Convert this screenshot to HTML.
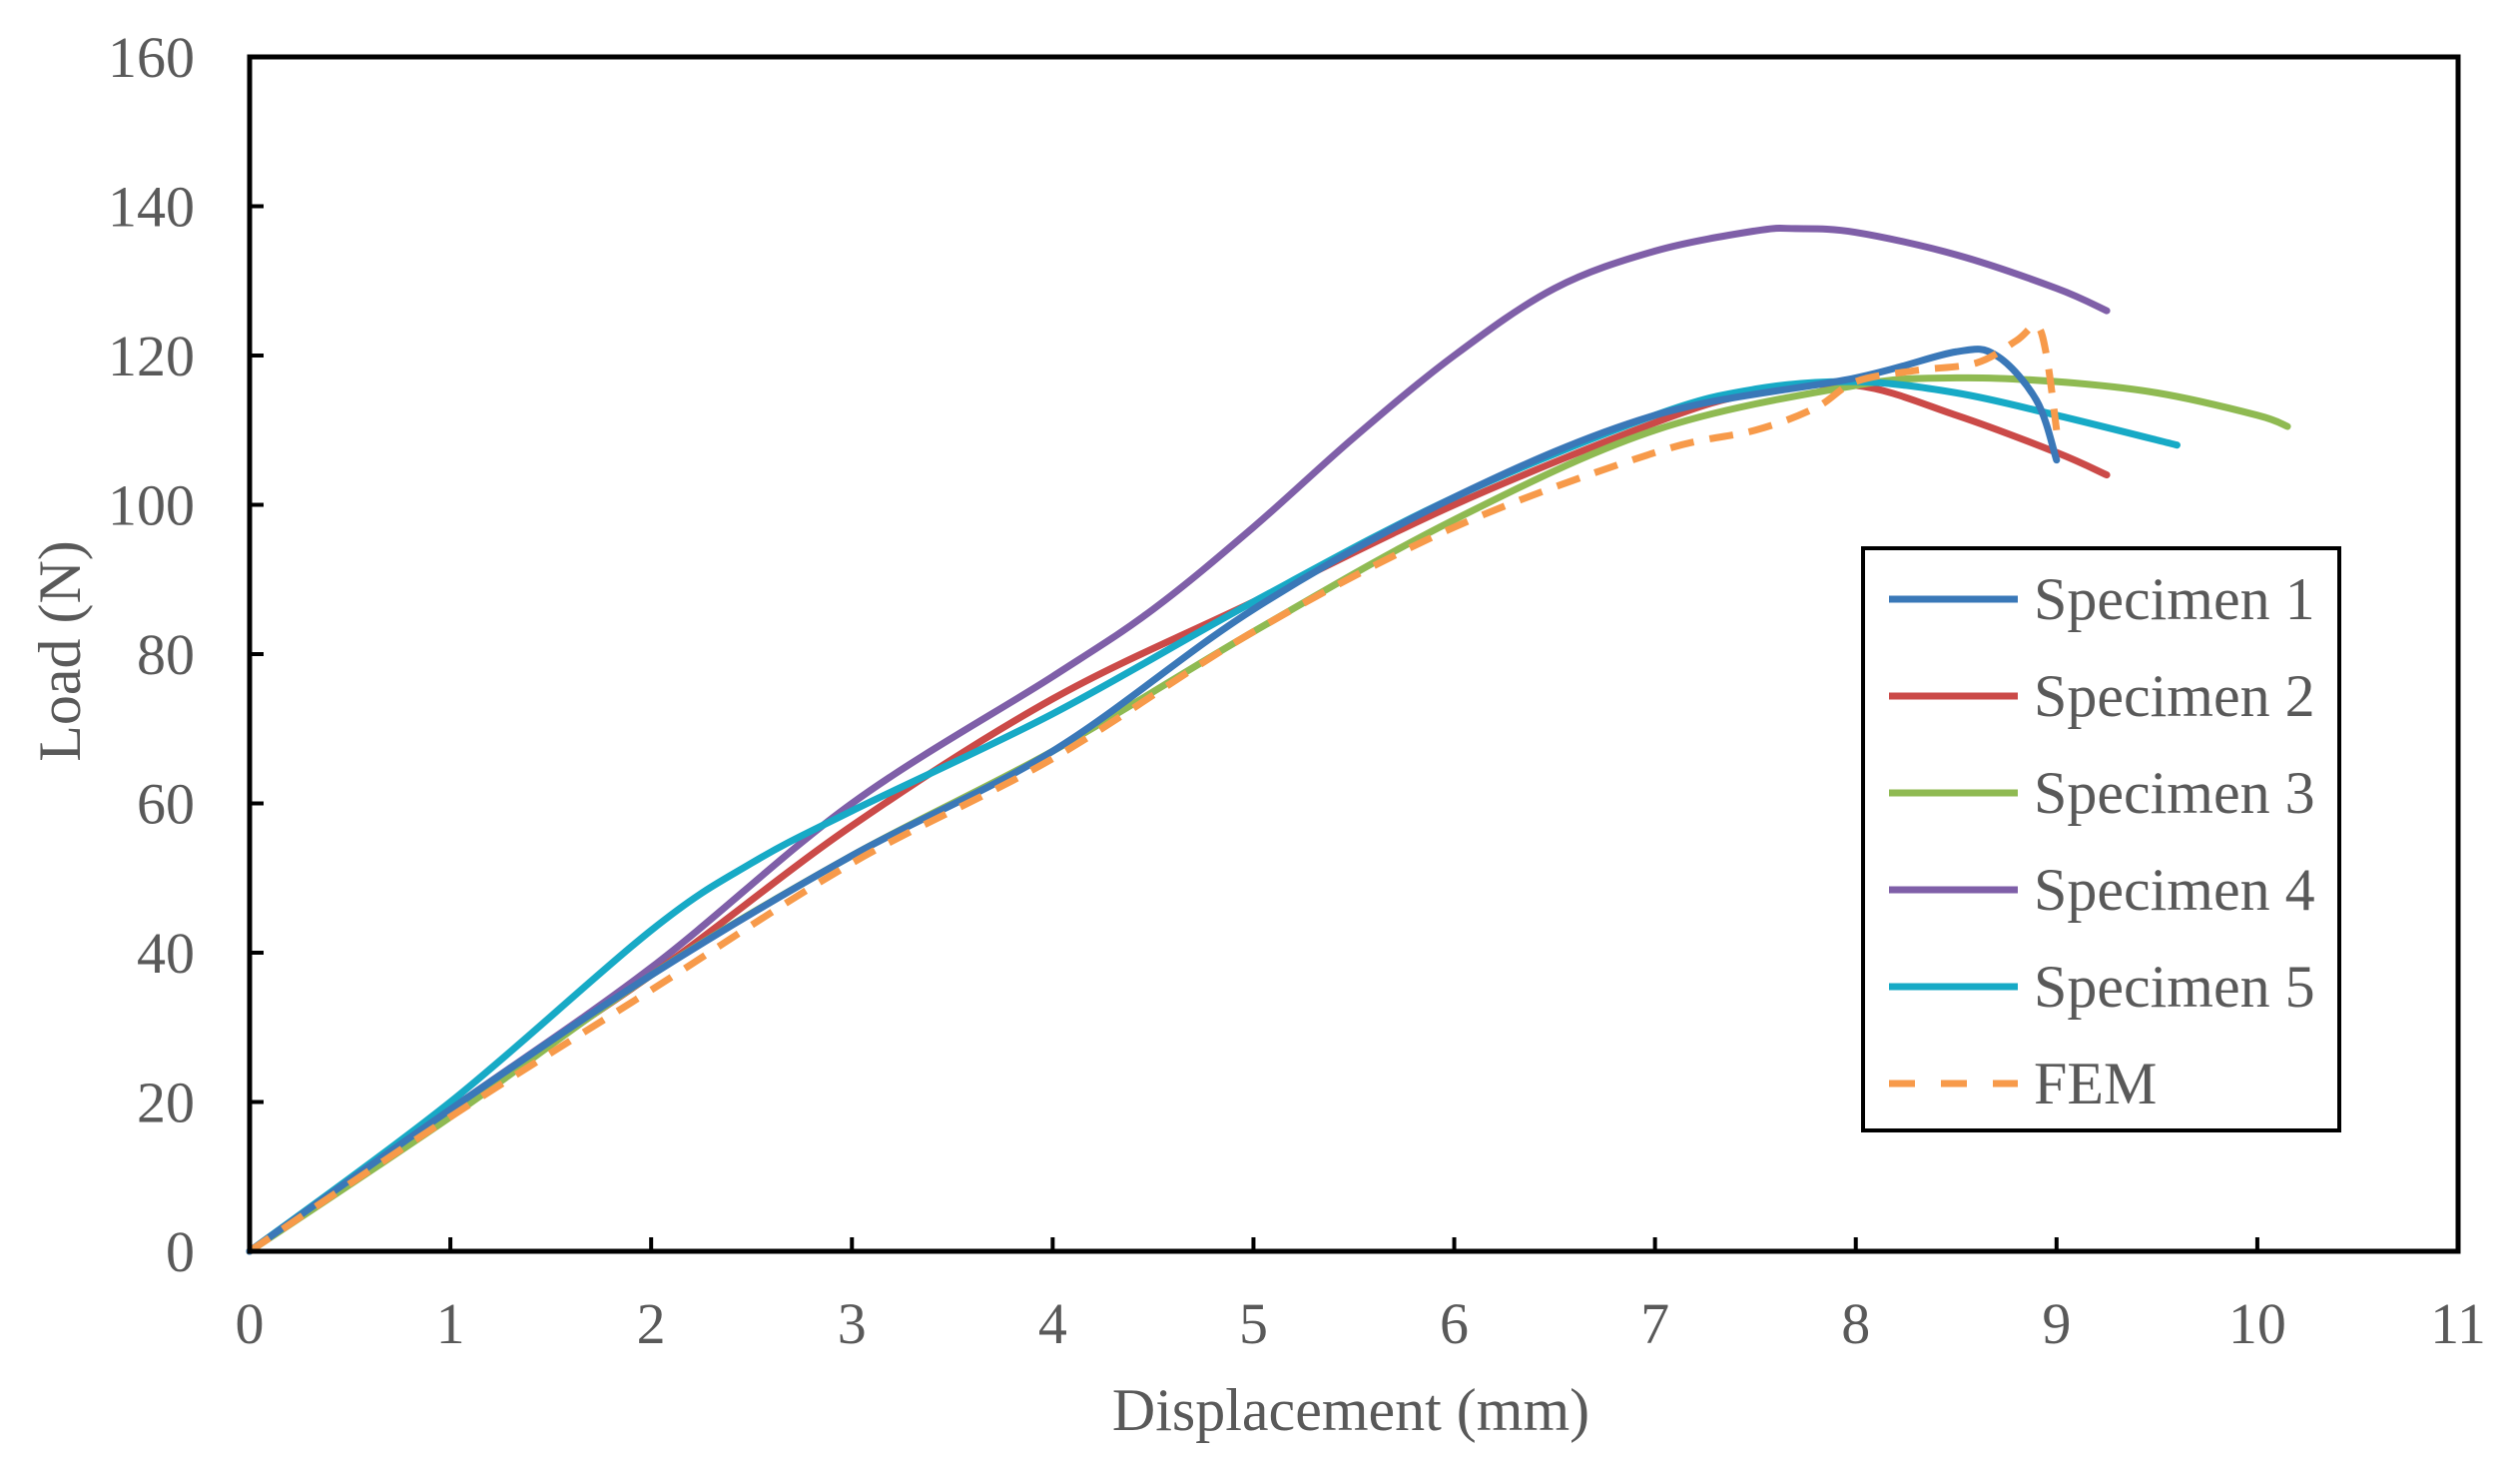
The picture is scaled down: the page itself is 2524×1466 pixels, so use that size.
<!DOCTYPE html>
<html><head><meta charset="utf-8"><style>
html,body{margin:0;padding:0;background:#fff}
svg{display:block}
text{font-family:"Liberation Serif",serif;fill:#595959}
</style></head><body>
<svg id="chart" width="2524" height="1466" viewBox="0 0 2524 1466" xmlns="http://www.w3.org/2000/svg">
<g id="series"></g>
<rect x="250" y="57" width="2212" height="1196" fill="none" stroke="#000" stroke-width="5"/>
<g id="axes"></g>
<text x="1353" y="1432" font-size="60" text-anchor="middle">Displacement (mm)</text>
<text transform="translate(80,652) rotate(-90)" font-size="60" text-anchor="middle">Load (N)</text>
<g id="legend"></g>
</svg>
<script>
const xTicks=[0,1,2,3,4,5,6,7,8,9,10,11];
const yTicks=[0,20,40,60,80,100,120,140,160];
const seriesNames=["Specimen 1","Specimen 2","Specimen 3","Specimen 4","Specimen 5","FEM"];
const seriesColors=["#3a78b8","#cb4a48","#8fba52","#7f5fa8","#17aac6","#f79a4a"];
const s1x=[0,1,2,3,4,5,6,7,8,8.5,8.7,8.9,9.0];
const s1y=[0,19,37,53,67,86,101,112,117,120.5,120,114,106];
const s2x=[0,1,2,3,4,5,6,7,7.5,8,8.5,9,9.25];
const s2y=[0,19,37,57,74,87,100,111,115,116,112,107,104];
const s3x=[0,1,2,3,4,5,6,7,8,8.5,9,9.5,10,10.15];
const s3y=[0,18,37,53,67,83,98,110,116,117,116.5,115,112,110.5];
const s4x=[0,1,2,3,4,4.5,5,5.5,6,6.5,7,7.5,7.7,8,8.5,9,9.25];
const s4y=[0,19,38,60,77,86,97,109,120,129,134,136.7,137,136.5,133.5,129,126];
const s5x=[0,1,2,2.5,3,4,5,6,7,7.5,8,8.5,9,9.6];
const s5y=[0,20,43,52,59,72,87,101,112,115.5,116.5,115,112,108];
const femX=[0,1,2,3,4,5,6,7,7.5,7.8,8,8.3,8.6,8.8,8.9,8.95,9.0];
const femY=[0,18,35,52,66,83,97,107,110,113,116.5,118,119,122,124,120,110];

const X0=250,X1=2462,Y0=1253,Y1=57;
const xs=v=>X0+(v/11)*(X1-X0);
const ys=v=>Y0-(v/160)*(Y0-Y1);
const NS="http://www.w3.org/2000/svg";
function mk(t,a,p){const e=document.createElementNS(NS,t);for(const k in a)e.setAttribute(k,a[k]);p.appendChild(e);return e;}
const axes=document.getElementById('axes');
xTicks.forEach(t=>{
  const l=mk('line',{x1:xs(t),x2:xs(t),y1:Y0,y2:Y0-14,stroke:'#000','stroke-width':4},axes);
  
  
  const tx=mk('text',{x:xs(t),y:1345,'font-size':58,'text-anchor':'middle'},axes);
  tx.textContent=t;
  
  
});
yTicks.forEach(t=>{
  const l=mk('line',{x1:X0,x2:X0+14,y1:ys(t),y2:ys(t),stroke:'#000','stroke-width':4},axes);
  
  
  const tx=mk('text',{x:195,y:ys(t)+20,'font-size':58,'text-anchor':'end'},axes);
  tx.textContent=t;
  
  
});
function smooth(px,py){
  const p=px.map((x,i)=>[xs(x),ys(py[i])]);
  let d=`M${p[0][0]},${p[0][1]}`;
  for(let i=0;i<p.length-1;i++){
    const a=p[i-1]||p[i],b=p[i],c=p[i+1],e=p[i+2]||c;
    const c1=[b[0]+(c[0]-a[0])/6,b[1]+(c[1]-a[1])/6];
    const c2=[c[0]-(e[0]-b[0])/6,c[1]-(e[1]-b[1])/6];
    d+=` C${c1[0]},${c1[1]} ${c2[0]},${c2[1]} ${c[0]},${c[1]}`;
  }
  return d;
}
const sg=document.getElementById('series');
const data=[[s1x,s1y],[s2x,s2y],[s3x,s3y],[s4x,s4y],[s5x,s5y],[femX,femY]];
const order=[3,1,2,4,0,5];
order.forEach(i=>{
  const a={d:smooth(data[i][0],data[i][1]),fill:'none',stroke:seriesColors[i],'stroke-width':7,'stroke-linecap':'round'};
  if(i===5){a['stroke-dasharray']='24 16';a['stroke-linecap']='butt';}
  const p=mk('path',a,sg);
  
  
});
const lg=document.getElementById('legend');
const box=mk('rect',{x:1866,y:549,width:477,height:583,fill:'#fff',stroke:'#000','stroke-width':4},lg);


seriesNames.forEach((n,i)=>{
  const y=600+i*97;
  const a={x1:1892,x2:2021,y1:y,y2:y,stroke:seriesColors[i],'stroke-width':7};
  if(i===5)a['stroke-dasharray']='26 26';
  const l=mk('line',a,lg);
  
  
  const t=mk('text',{x:2037,y:y+20,'font-size':60},lg);
  t.textContent=n;
  
  
});
</script>
</body></html>
